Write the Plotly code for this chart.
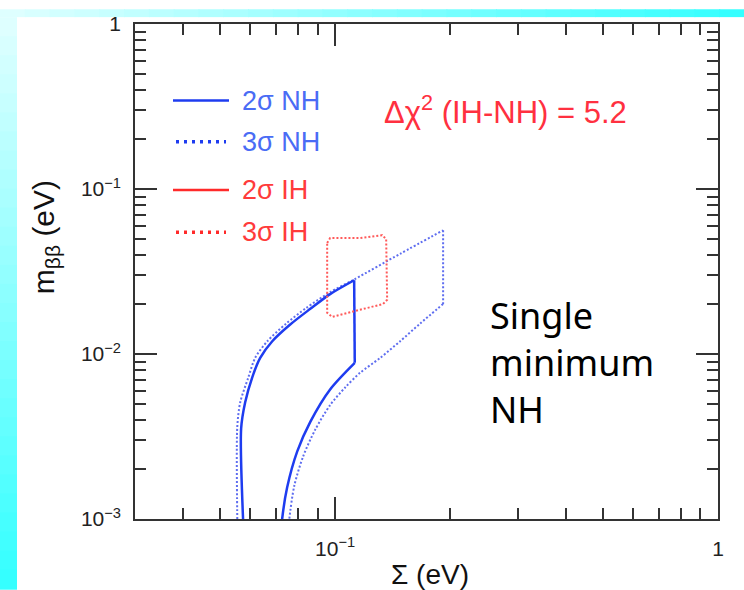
import plotly.graph_objects as go
import math

# ---------------- data ----------------
# 2 sigma NH contour (solid blue): left branch, vertical edge, right branch
nh2_left_sum = [0.0577, 0.0568, 0.0582, 0.0607, 0.0637, 0.0685, 0.0763, 0.0861, 0.0970, 0.1121]
nh2_left_mbb = [0.0008, 0.00353, 0.0051, 0.0072, 0.00947, 0.01195, 0.01509, 0.01878, 0.02307, 0.0280]
nh2_edge_sum = [0.1121, 0.1125]
nh2_edge_mbb = [0.0280, 0.00884]
nh2_right_sum = [0.1125, 0.0970, 0.0861, 0.0796, 0.0749, 0.0727, 0.0722]
nh2_right_mbb = [0.00884, 0.0061, 0.00388, 0.00257, 0.00155, 0.0010, 0.0008]

# 3 sigma NH contour (dotted blue)
nh3_left_sum = [0.0556, 0.0555, 0.0555, 0.0565, 0.0593, 0.0618, 0.0665, 0.0745, 0.0840, 0.0970,
                0.1121, 0.1478, 0.1914]
nh3_left_mbb = [0.0008, 0.0010, 0.00363, 0.0051, 0.0072, 0.00947, 0.01195, 0.0153, 0.0190, 0.0237,
                0.0283, 0.0405, 0.0562]
nh3_edge_sum = [0.1914, 0.1914]
nh3_edge_mbb = [0.0562, 0.0201]
nh3_right_sum = [0.1914, 0.1667, 0.1478, 0.1311, 0.1162, 0.1062, 0.0970, 0.0887, 0.0825, 0.0782,
                 0.0759, 0.0754]
nh3_right_mbb = [0.0201, 0.0153, 0.01195, 0.00947, 0.0077, 0.00627, 0.0049, 0.00348, 0.0024, 0.00159,
                 0.0010, 0.0008]

# 3 sigma IH contour (dotted red)
ih3_sum = [0.0953, 0.0970, 0.1162, 0.1212, 0.1327, 0.1359, 0.1367, 0.1334, 0.0982, 0.0953, 0.0953]
ih3_mbb = [0.0471, 0.0504, 0.0504, 0.0511, 0.0525, 0.0497, 0.0213, 0.0201, 0.0168, 0.0178, 0.0471]

x_major = [0.1, 1]
x_major_text = ["10<sup>−1</sup>", "1"]
x_minor = [0.04, 0.05, 0.06, 0.07, 0.08, 0.09, 0.2, 0.3, 0.4, 0.5, 0.6, 0.7, 0.8, 0.9]
y_major = [0.001, 0.01, 0.1, 1]
y_major_text = ["10<sup>−3</sup>", "10<sup>−2</sup>", "10<sup>−1</sup>", "1"]
y_minor = [0.002, 0.003, 0.004, 0.005, 0.006, 0.007, 0.008, 0.009,
           0.02, 0.03, 0.04, 0.05, 0.06, 0.07, 0.08, 0.09,
           0.2, 0.3, 0.4, 0.5, 0.6, 0.7, 0.8, 0.9]

legend_labels = ["2σ NH", "3σ NH", "2σ IH", "3σ IH"]
annotation_text = "Δχ<sup>2</sup> (IH-NH) = 5.2"
note_text = "Single<br>minimum<br>NH"

# ---------------- styles ----------------
W, H = 744, 590
L, R, T, B = 135, 26, 15, 71
PW, PH = W - L - R, H - T - B

def px(xp):
    return (xp - L) / PW

def py(yp):
    return (H - B - yp) / PH

BLUE = "#1e3cf0"
BLUE_DOT = "#5f6ef0"
RED = "#ff2a2a"
RED_DOT = "#ff5a5a"
BLUE_TXT = "#4a6cf5"
RED_TXT = "#ff3b3b"
AX = "#333333"

fig = go.Figure()

def seg(xs, ys, color, width, dash, smooth):
    fig.add_trace(go.Scatter(
        x=xs, y=ys, mode="lines",
        line=dict(color=color, width=width, dash=dash,
                  shape="spline" if smooth else "linear", smoothing=0.8 if smooth else None),
        hoverinfo="skip", showlegend=False))

DOT = "2px,2px"
seg(nh3_left_sum, nh3_left_mbb, BLUE_DOT, 2, DOT, True)
seg(nh3_edge_sum, nh3_edge_mbb, BLUE_DOT, 2, DOT, False)
seg(nh3_right_sum, nh3_right_mbb, BLUE_DOT, 2, DOT, True)
seg(nh2_left_sum, nh2_left_mbb, BLUE, 2.5, "solid", True)
seg(nh2_edge_sum, nh2_edge_mbb, BLUE, 2.5, "solid", False)
seg(nh2_right_sum, nh2_right_mbb, BLUE, 2.5, "solid", True)
seg(ih3_sum, ih3_mbb, RED_DOT, 2, DOT, False)

shapes = []
# background cyan gradient strips
N = 30
def mix(c1, c2, t):
    return "rgb(%d,%d,%d)" % tuple(round(a + (b - a) * t) for a, b in zip(c1, c2))
pale = (225, 255, 255)
cyan = (50, 255, 255)
for i in range(N):
    t = (i + 0.5) / N
    x0 = px(0 + i * W / N); x1 = px(0 + (i + 1) * W / N + 1)
    shapes.append(dict(type="rect", xref="paper", yref="paper", x0=x0, x1=x1,
                       y0=py(8), y1=py(0), fillcolor=mix(pale, cyan, t), line=dict(width=0), layer="below"))
    y0 = py(8 + i * (H - 8) / N); y1 = py(8 + (i + 1) * (H - 8) / N + 1)
    shapes.append(dict(type="rect", xref="paper", yref="paper", x0=px(0), x1=px(17),
                       y0=y1, y1=y0, fillcolor=mix(pale, cyan, t), line=dict(width=0), layer="below"))

# legend samples
leg_y = [93, 135, 184, 227]
leg_col = [BLUE, BLUE, RED, RED]
leg_dash = ["solid", "3px,5px", "solid", "3px,5px"]
leg_txt_col = [BLUE_TXT, BLUE_TXT, RED_TXT, RED_TXT]
annotations = []
for lab, yy, c, d, tc in zip(legend_labels, leg_y, leg_col, leg_dash, leg_txt_col):
    x0, x1 = (173, 229) if d == "solid" else (176, 226)
    shapes.append(dict(type="line", xref="paper", yref="paper", x0=px(x0), x1=px(x1),
                       y0=py(yy), y1=py(yy), line=dict(color=c, width=2.5 if d == "solid" else 3.5, dash=d)))
    annotations.append(dict(xref="paper", yref="paper", x=px(240), y=py(yy), text=lab,
                            showarrow=False, xanchor="left", yanchor="middle",
                            font=dict(family="Liberation Sans, Arial", size=27, color=tc)))

annotations.append(dict(xref="paper", yref="paper", x=px(382), y=py(103), text=annotation_text,
                        showarrow=False, xanchor="left", yanchor="middle",
                        font=dict(family="Liberation Sans, Arial", size=31, color="#ff3040")))
annotations.append(dict(xref="paper", yref="paper", x=px(488), y=py(360), text=note_text,
                        showarrow=False, xanchor="left", yanchor="middle", align="left",
                        font=dict(family="Comic Sans MS, Noto Sans", size=36, color="black")))
# axis titles
annotations.append(dict(xref="paper", yref="paper", x=px(430), y=py(575), text="Σ (eV)",
                        showarrow=False, xanchor="center", yanchor="middle",
                        font=dict(family="Liberation Sans, Arial", size=28, color="#111")))
annotations.append(dict(xref="paper", yref="paper", x=px(45), y=py(232),
                        text="m<sub>ββ</sub> (eV)", textangle=-90,
                        showarrow=False, xanchor="center", yanchor="middle",
                        font=dict(family="Liberation Sans, Arial", size=30, color="#111")))

axis_common = dict(type="log", tickmode="array", ticks="inside", ticklen=22, tickwidth=1.5,
                   tickcolor=AX, showline=True, linecolor=AX, linewidth=1.5, mirror="ticks",
                   showgrid=False, zeroline=False,
                   tickfont=dict(family="Liberation Sans, Arial", size=21, color="#222"))

fig.update_layout(
    width=W, height=H,
    margin=dict(l=L, r=R, t=T, b=B, pad=0),
    paper_bgcolor="white", plot_bgcolor="white",
    showlegend=False,
    xaxis=dict(range=[math.log10(0.03), 0], tickvals=x_major, ticktext=x_major_text,
               ticklabelstandoff=10,
               minor=dict(tickmode="array", tickvals=x_minor, ticks="inside", ticklen=11,
                          tickwidth=1.5, tickcolor=AX, showgrid=False),
               **axis_common),
    yaxis=dict(range=[-3, 0], tickvals=y_major, ticktext=y_major_text,
               ticklabelstandoff=8,
               minor=dict(tickmode="array", tickvals=y_minor, ticks="inside", ticklen=11,
                          tickwidth=1.5, tickcolor=AX, showgrid=False),
               **axis_common),
    shapes=shapes,
    annotations=annotations,
)

fig.write_html("out.html")
